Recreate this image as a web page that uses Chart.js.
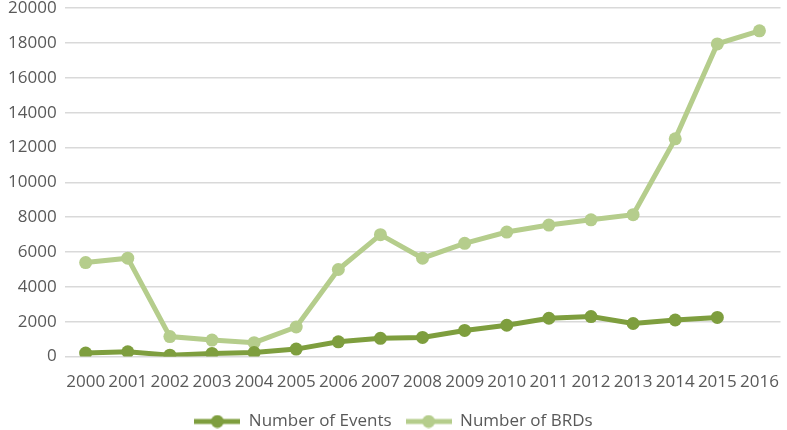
<!DOCTYPE html>
<html>
<head>
<meta charset="utf-8">
<script src="https://cdn.jsdelivr.net/npm/chart.js@4/dist/chart.umd.min.js"></script>
<style>
  html, body { margin: 0; padding: 0; background: #fff; overflow: hidden; }
  #wrap { width: 787px; height: 450px; margin-top: -10px; }
</style>
</head>
<body>
<div id="wrap"><canvas id="brd-chart"></canvas></div>
<script>
// data
var years = ['2000', '2001', '2002', '2003', '2004', '2005', '2006', '2007', '2008',
             '2009', '2010', '2011', '2012', '2013', '2014', '2015', '2016'];
var events = [200, 280, 80, 180, 230, 430, 850, 1050, 1100, 1500, 1800, 2200, 2300, 1900, 2100, 2250, null];
var brds = [5400, 5650, 1150, 950, 800, 1700, 5000, 7000, 5650, 6500, 7150, 7550, 7850, 8150, 12500, 17950, 18700];

var darkGreen = '#7E9E3E';
var lightGreen = '#B5CD8C';

// legend marker: line with a dot in the middle, like the office style
function legendMarker(color) {
    var c = document.createElement('canvas');
    c.width = 46;
    c.height = 14;
    var g = c.getContext('2d');
    g.strokeStyle = color;
    g.lineWidth = 5;
    g.beginPath();
    g.moveTo(0, 7);
    g.lineTo(46, 7);
    g.stroke();
    g.fillStyle = color;
    g.beginPath();
    g.arc(23, 7, 6.5, 0, Math.PI * 2);
    g.fill();
    return c;
}
var markers = [legendMarker(darkGreen), legendMarker(lightGreen)];

var ctx = document.getElementById('brd-chart');

var chart = new Chart(ctx, {
    type: 'line',
    data: {
        labels: years,
        datasets: [{
            label: 'Number of Events',
            data: events,
            borderColor: darkGreen,
            backgroundColor: darkGreen,
            borderWidth: 5,
            pointRadius: 6.5,
            pointBorderWidth: 0,
            tension: 0
        }, {
            label: 'Number of BRDs',
            data: brds,
            borderColor: lightGreen,
            backgroundColor: lightGreen,
            borderWidth: 5,
            pointRadius: 6.5,
            pointBorderWidth: 0,
            tension: 0
        }]
    },
    options: {
        responsive: true,
        maintainAspectRatio: false,
        animation: false,
        layout: { padding: { left: 0, right: 0, top: 0, bottom: 0 } },
        scales: {
            x: {
                offset: true,
                grid: { display: false },
                border: { display: false },
                ticks: {
                    color: '#595959',
                    font: { family: 'Open Sans', size: 17 },
                    maxRotation: 0,
                    autoSkip: false,
                    padding: 7
                }
            },
            y: {
                min: 0,
                max: 20000,
                grid: { color: '#D9D9D9', lineWidth: 1.5, drawTicks: false },
                border: { display: false },
                ticks: {
                    stepSize: 2000,
                    color: '#595959',
                    font: { family: 'Open Sans', size: 17 },
                    padding: 8,
                    callback: function (v) { return String(v); }
                }
            }
        },
        plugins: {
            legend: {
                position: 'bottom',
                labels: {
                    color: '#595959',
                    font: { family: 'Open Sans', size: 17 },
                    usePointStyle: true,
                    pointStyleWidth: 46,
                    padding: 14,
                    generateLabels: function (chart) {
                        var items = Chart.defaults.plugins.legend.labels.generateLabels(chart);
                        items.forEach(function (it, i) { it.pointStyle = markers[i]; });
                        return items;
                    }
                }
            },
            tooltip: { enabled: false }
        }
    }
});
</script>
</body>
</html>
